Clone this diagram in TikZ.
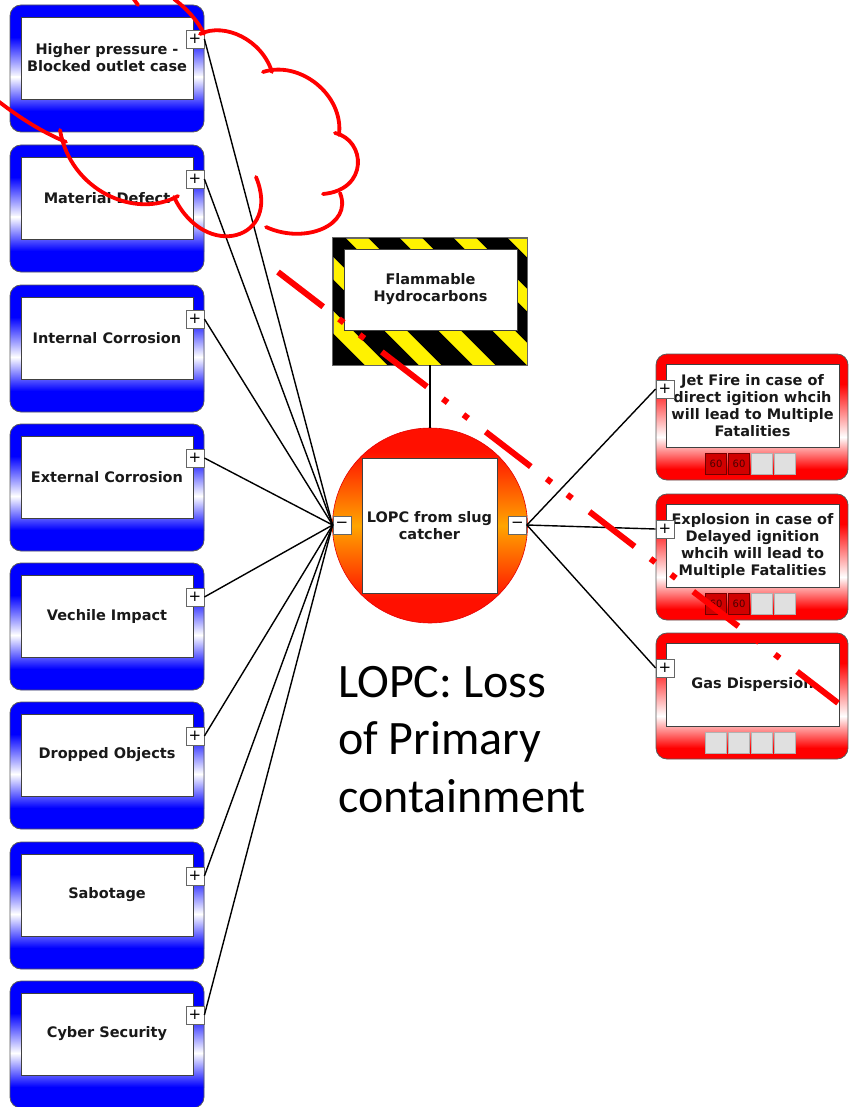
\documentclass[tikz,border=0pt]{standalone}
\usepackage{fontspec}
\setmainfont{DejaVu Sans}
\newfontfamily\bigfont{Carlito}
\definecolor{tblue}{RGB}{0,0,255}
\definecolor{cred}{RGB}{255,16,0}
\definecolor{corange}{RGB}{255,165,0}
\definecolor{bred}{RGB}{255,0,0}
\pgfdeclareverticalshading{circsh}{100bp}{color(0bp)=(cred); color(31bp)=(cred); color(50bp)=(corange); color(69bp)=(cred); color(100bp)=(cred)}
\newcommand\lbl{\bfseries\fontsize{14.5}{17}\selectfont}
\begin{document}
\begin{tikzpicture}[x=1pt,y=-1pt,
  boxfill/.style n args={5}{path picture={
      \coordinate (pnw) at (path picture bounding box.north west);
      \fill[#1, sharp corners] ([xshift=-5pt,yshift=5pt]pnw) rectangle ([xshift=205pt,yshift=-140pt]pnw);
      \shade[sharp corners, top color=#1, bottom color=white] ([xshift=-5pt,yshift=-#2]pnw) rectangle ([xshift=205pt,yshift=-#3]pnw);
      \shade[sharp corners, top color=white, bottom color=#1] ([xshift=-5pt,yshift=-#4]pnw) rectangle ([xshift=205pt,yshift=-#5]pnw);
  }},
  threat/.style={draw=black!65, line width=0.8pt, rounded corners=11pt, minimum width=194pt, minimum height=127pt, inner sep=0pt, boxfill={tblue}{32pt}{72pt}{72pt}{106pt}},
  cons/.style={draw=black!65, line width=0.8pt, rounded corners=11pt, minimum width=192pt, minimum height=126pt, inner sep=0pt, boxfill={bred}{30pt}{83pt}{83pt}{115pt}},
  inbox/.style={draw=black!75, line width=0.8pt, fill=white, inner sep=1pt, align=center, font=\lbl, text=black!90},
  pmbox/.style={draw=black!60, line width=0.8pt, fill=white, minimum width=18pt, minimum height=18pt, inner sep=0pt, font=\fontsize{15}{15}\selectfont},
  conn/.style={line width=1.4pt, black},
  lampred/.style={draw=red!45!black, line width=0.6pt, fill=red!82!black, minimum width=21pt, minimum height=21pt, inner sep=0pt, font=\fontsize{10}{10}\selectfont, text=red!30!black},
  lampgray/.style={draw=black!30, line width=0.6pt, fill=black!12, minimum width=21pt, minimum height=21pt, inner sep=0pt},
  cloudline/.style={draw=red, line width=3.8pt, line cap=round},
  annot/.style={draw=red, line width=6pt, dash pattern=on 57pt off 20pt on 6pt off 20pt on 6pt off 22pt}
]
\useasboundingbox (0,0) rectangle (848,1107);

% hazard
\node[draw=black!60, line width=0.8pt, fill=yellow, minimum width=194pt, minimum height=127pt, inner sep=0pt] (hz) at (430,301.5) {};
\begin{scope}
  \clip (hz.south west) rectangle (hz.north east);
  \foreach \k in {-5,...,3}
    \draw[line width=22pt, black] ({384+54*\k-150},{238-150}) -- ({384+54*\k+150},{238+150});
\end{scope}
\draw[black!60, line width=0.8pt] (hz.south west) rectangle (hz.north east);
\node[inbox, minimum width=173pt, minimum height=81pt] (hzi) at (430.5,289.5) {Flammable\\Hydrocarbons};

% top event
\node[circle, draw=red!90!black, line width=0.6pt, minimum size=195pt, inner sep=0pt, shading=circsh] (te) at (430,525.5) {};
\draw[conn] (hz.south) -- (te.north);
\node[inbox, minimum width=135pt, minimum height=135pt] (tei) at (429.5,525.5) {LOPC from slug\\catcher};
\node[pmbox] (lm) at (342,525) {−};
\node[pmbox] (rm) at (517.5,525) {−};

% threats
\foreach \i/\tp/\txt in {1/5/{Higher pressure -\\Blocked outlet case}, 2/145/{Material Defect}, 3/285/{Internal Corrosion}, 4/424/{External Corrosion}, 5/563/{Vechile Impact}, 6/702/{Dropped Objects}, 7/842/{Sabotage}, 8/981/{Cyber Security}}{
  \node[threat] (t\i) at (107,{\tp+63.5}) {};
  \node[inbox, minimum width=172pt, minimum height=82pt] (t\i i) at (107,{\tp+53}) {\txt};
  \node[pmbox] (t\i p) at (195,{\tp+34}) {+};
  \draw[conn] (t\i p.east) -- (lm.west);
}

% consequences
\foreach \i/\tp/\txt in {1/354/{Jet Fire in case of\\direct igition whcih\\will lead to Multiple\\Fatalities}, 2/494/{Explosion in case of\\Delayed ignition\\whcih will lead to\\Multiple Fatalities}, 3/633/{Gas Dispersion}}{
  \node[cons] (c\i) at (752,{\tp+63}) {};
  \node[inbox, minimum width=173pt, minimum height=83pt] (c\i i) at (752.5,{\tp+51.5}) {\txt};
  \node[pmbox] (c\i p) at (665,{\tp+35}) {+};
  \draw[conn] (rm.east) -- (c\i p.west);
}
\foreach \i/\tp in {1/354, 2/494}{
  \node[lampred] (c\i a) at (716,{\tp+110}) {60};
  \node[lampred] (c\i b) at (739,{\tp+110}) {60};
  \node[lampgray] (c\i c) at (762,{\tp+110}) {};
  \node[lampgray] (c\i d) at (785,{\tp+110}) {};
}
\foreach \j/\xx in {a/716, b/739, c/762, d/785}
  \node[lampgray] (c3\j) at (\xx,743) {};

% note
\node[anchor=north west, inner sep=0pt, align=left, font=\bigfont\fontsize{48}{57.5}\selectfont] (note) at (338,666) {LOPC: Loss\\of Primary\\containment};

% annotation line
\draw[annot] (278,272) -- (838,703);

% cloud
\draw[cloudline] (133,-2) -- (138,5);
\draw[cloudline] (174,-1) .. controls (187,9) and (198,21) .. (204,34);
\draw[cloudline] (200,34) .. controls (225,22) and (262,40) .. (272,72);
\draw[cloudline] (263,72) .. controls (300,60) and (344,95) .. (339,135);
\draw[cloudline] (335,133) .. controls (366,140) and (369,190) .. (323,194);
\draw[cloudline] (340,193) .. controls (353,225) and (305,245) .. (266,227);
\draw[cloudline] (256,177) .. controls (282,240) and (205,262) .. (174,197);
\draw[cloudline] (178,196) .. controls (135,220) and (70,190) .. (60,130);
\draw[cloudline] (-2,101) .. controls (20,118) and (42,132) .. (66,142);
\end{tikzpicture}
\end{document}
